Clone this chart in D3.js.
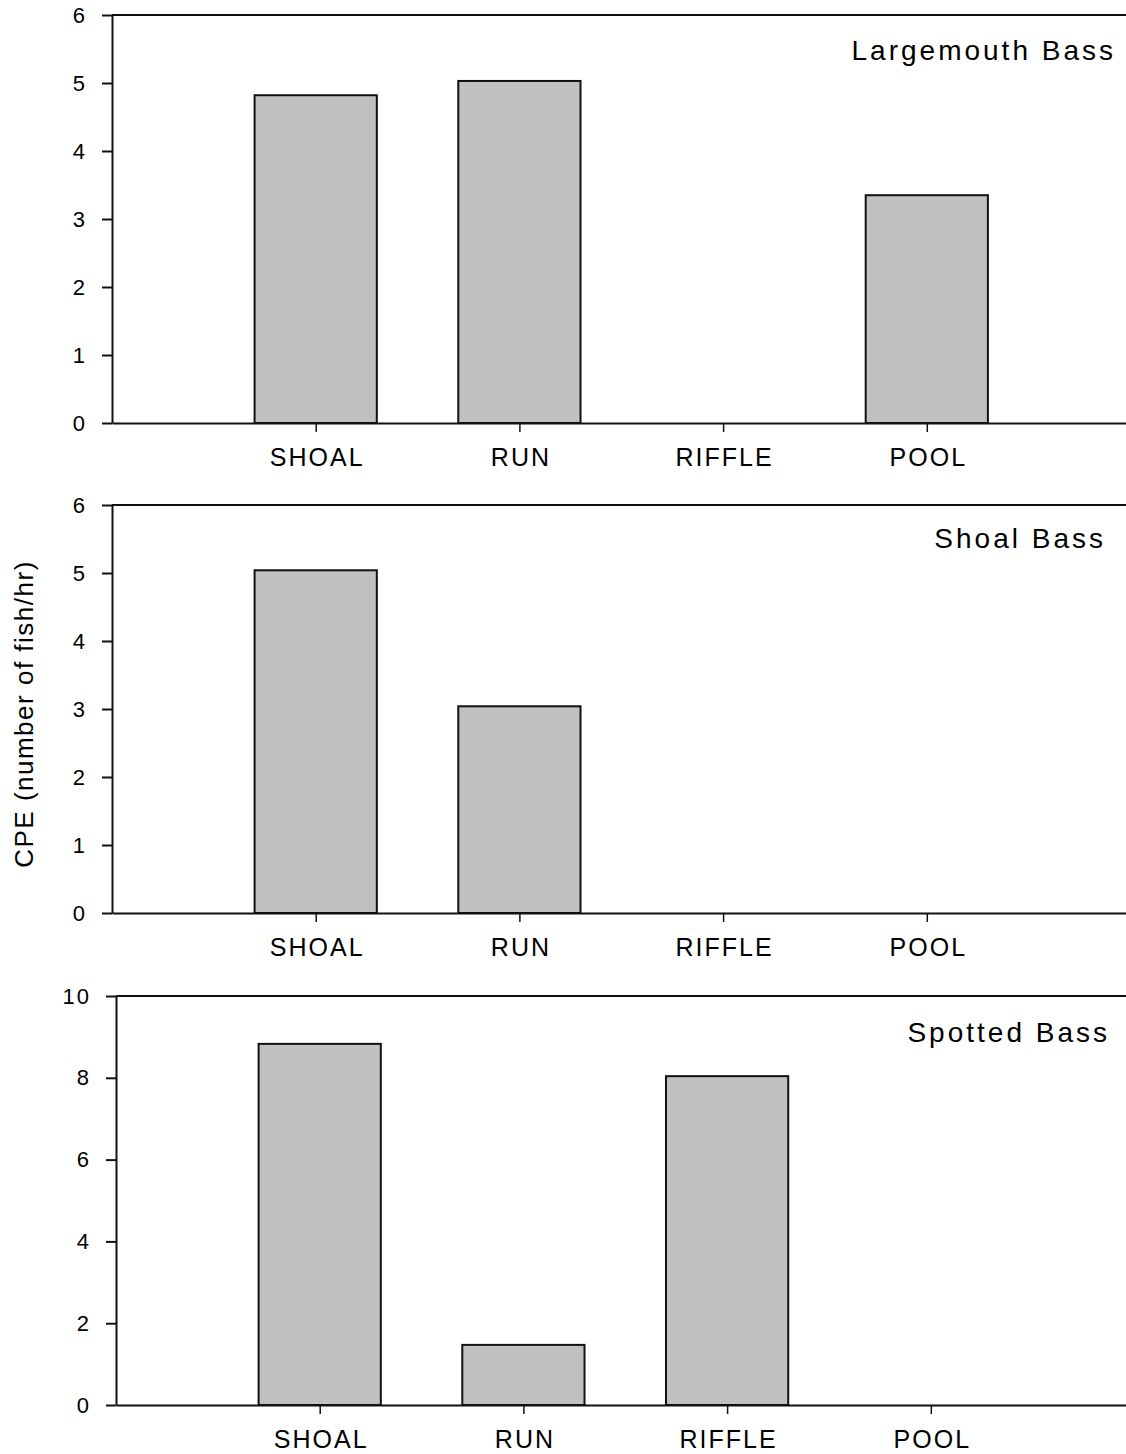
<!DOCTYPE html>
<html>
<head>
<meta charset="utf-8">
<script src="https://cdn.jsdelivr.net/npm/d3@7"></script>
<style>
  html, body { margin: 0; padding: 0; background: #fff; }
  svg { display: block; }
  svg text { font-family: "Liberation Sans", Arial, sans-serif; }
</style>
</head>
<body>
<script>
// data
const habitats   = ["SHOAL", "RUN", "RIFFLE", "POOL"];
const species    = ["Largemouth Bass", "Shoal Bass", "Spotted Bass"];
const largemouth = [4.82, 5.03, 0, 3.35];
const shoalBass  = [5.04, 3.04, 0, 0];
const spotted    = [8.83, 1.47, 8.04, 0];
const yMax       = [6, 6, 10];
const yStep      = [1, 1, 2];
const yLabel     = "CPE (number of fish/hr)";

const series = [largemouth, shoalBass, spotted];

// layout (pixels)
const W = 1126, H = 1454;
const FONT = '"Liberation Sans", Arial, sans-serif';
const panels = [
  { top: 15,  bottom: 423,  axisX: 112, titleRight: 1113, titleY: 60 },
  { top: 505, bottom: 913,  axisX: 112, titleRight: 1103, titleY: 548 },
  { top: 996, bottom: 1405, axisX: 116, titleRight: 1107, titleY: 1042 }
];
const slot = 203.7;   // distance between habitat centres
const barFrac = 0.6;

const svg = d3.select('body').append('svg')
    .attr('width', W).attr('height', H);

panels.forEach((p, k) => {
  const g = svg.append('g');
  const x = d3.scaleLinear().domain([0, habitats.length + 1])
      .range([p.axisX, p.axisX + slot * (habitats.length + 1)]);
  const y = d3.scaleLinear().domain([0, yMax[k]]).range([p.bottom, p.top]);
  const barW = slot * barFrac;

  // bars
  g.selectAll('rect.bar')
    .data(series[k].map((v, i) => ({ v, i })).filter(d => d.v > 0))
    .join('rect')
      .attr('class', 'bar')
      .attr('x', d => x(d.i + 1) - barW / 2)
      .attr('y', d => y(d.v))
      .attr('width', barW)
      .attr('height', d => y(0) - y(d.v))
      .attr('fill', '#c0c0c0')
      .attr('stroke', '#111')
      .attr('stroke-width', 2);

  // top frame line
  g.append('line')
    .attr('x1', p.axisX).attr('x2', W)
    .attr('y1', y(yMax[k])).attr('y2', y(yMax[k]))
    .attr('stroke', '#111').attr('stroke-width', 2);

  // x axis
  const xAxis = d3.axisBottom(x)
      .tickValues(d3.range(1, habitats.length + 1))
      .tickFormat(d => habitats[d - 1])
      .tickSize(9).tickSizeOuter(0).tickPadding(16);
  const gx = g.append('g')
      .attr('transform', `translate(0,${p.bottom})`)
      .attr('font-family', FONT)
      .call(xAxis);
  gx.select('.domain').attr('stroke', '#111').attr('stroke-width', 2);
  gx.selectAll('.tick line').attr('stroke', '#111').attr('stroke-width', 1.5);
  gx.selectAll('.tick text')
      .attr('fill', '#000')
      .style('font-size', '25px')
      .style('letter-spacing', '2px')
      .attr('dx', '1px');

  // y axis
  const yAxis = d3.axisLeft(y)
      .tickValues(d3.range(0, yMax[k] + 0.001, yStep[k]))
      .tickFormat(d3.format('d'))
      .tickSize(10).tickSizeOuter(0).tickPadding(17);
  const gy = g.append('g')
      .attr('transform', `translate(${p.axisX},0)`)
      .attr('font-family', FONT)
      .call(yAxis);
  gy.select('.domain').attr('stroke', '#111').attr('stroke-width', 2);
  gy.selectAll('.tick line').attr('stroke', '#111').attr('stroke-width', 2);
  gy.selectAll('.tick text')
      .attr('fill', '#000')
      .style('font-size', '22px')
      .style('letter-spacing', '2px')
      .attr('dx', '2px');

  // species title
  g.append('text')
    .attr('x', p.titleRight + 3)
    .attr('y', p.titleY)
    .attr('text-anchor', 'end')
    .style('font-size', '28px')
    .style('letter-spacing', '3px')
    .attr('fill', '#000')
    .text(species[k]);
});

// shared y label
svg.append('text')
  .attr('transform', 'translate(33,714) rotate(-90)')
  .attr('text-anchor', 'middle')
  .style('font-size', '26px')
  .style('letter-spacing', '1.5px')
  .attr('fill', '#000')
  .text(yLabel);
</script>
</body>
</html>
